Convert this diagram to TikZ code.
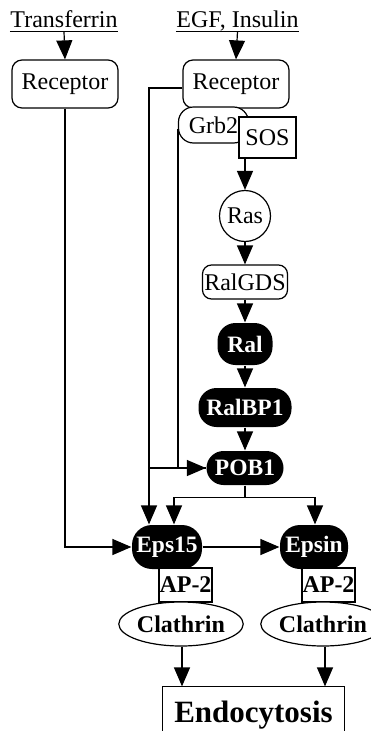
\documentclass[tikz,border=0pt]{standalone}
\usepackage{fontspec}
\setmainfont{Liberation Serif}
\usetikzlibrary{arrows.meta,shapes.geometric}
\begin{document}
\begin{tikzpicture}[x=1pt,y=-1pt,line width=1.2pt,
  every node/.style={font=\fontsize{24}{27}\selectfont},
  arr/.style={-{Triangle[length=19pt 0 0,width=16pt 0 0]}},
  lbl/.style={inner sep=0pt,text depth=0pt,anchor=base},
  rbox/.style={draw,fill=white,rounded corners=#1,inner sep=0pt},
  rbox/.default=10pt,
  sbox/.style={draw,fill=white,inner sep=0pt},
  dark/.style={fill=black,text=white,rounded corners=#1,inner sep=0pt,
    font=\fontsize{23.5}{26}\selectfont\bfseries},
  dark/.default=18pt,
  oval/.style={ellipse,draw,fill=white,inner sep=0pt,
    font=\fontsize{24}{27}\selectfont\bfseries}]
\useasboundingbox (0,0) rectangle (370,731);

% ligands
\node[lbl] (tf)  at (64,27)    {Transferrin};
\node[lbl] (egf) at (237.5,27) {EGF, Insulin};
\draw ([yshift=-4pt]tf.south west) -- ([yshift=-4pt]tf.south east);
\draw ([yshift=-4pt]egf.south west) -- ([yshift=-4pt]egf.south east);

% receptors and adaptor complex
\node[rbox,minimum width=106pt,minimum height=48pt] (rec1) at (65,84)  {Receptor};
\node[rbox,minimum width=106pt,minimum height=48pt] (rec2) at (236,84) {Receptor};
\node[rbox=15pt,minimum width=70pt,minimum height=36pt] (grb2) at (213.5,125) {Grb2};
\node[sbox,minimum width=57pt,minimum height=41pt] (sos) at (267.5,137.5) {SOS};

% Ras pathway
\node[circle,draw,fill=white,inner sep=0pt,minimum size=51pt] (ras) at (245,216) {Ras};
\node[rbox=9pt,minimum width=85pt,minimum height=34pt] (ralgds) at (245,282) {RalGDS};
\node[dark,minimum width=55pt,minimum height=42pt] (ral) at (245,344) {Ral};
\node[dark,minimum width=93pt,minimum height=39pt] (ralbp1) at (245,407.5) {RalBP1};
\node[dark=17pt,minimum width=77pt,minimum height=34pt] (pob1) at (245,468) {POB1};

% endocytic machinery
\node[dark=20pt,minimum width=70pt,minimum height=44pt] (eps15) at (167,547) {Eps15};
\node[dark=20pt,minimum width=68pt,minimum height=44pt] (epsin) at (314,547) {Epsin};
\node[sbox,minimum width=53pt,minimum height=34pt,font=\fontsize{24}{27}\selectfont\bfseries] (ap2a) at (185.5,585) {AP-2};
\node[sbox,minimum width=53pt,minimum height=34pt,font=\fontsize{24}{27}\selectfont\bfseries] (ap2b) at (328.5,585) {AP-2};
\node[oval,minimum width=92pt,minimum height=44pt] (cla) at (181,624) {Clathrin};
\node[oval,minimum width=90pt,minimum height=44pt] (clb) at (323,624) {Clathrin};
\node[inner sep=0pt,minimum width=181pt,minimum height=56pt,
  font=\fontsize{31}{34}\selectfont\bfseries] (endo) at (253.5,715) {Endocytosis};
\draw (endo.south west) |- (endo.north east) -- (endo.south east);

% connectors
\draw[arr] ([yshift=-4pt]tf.south) -- (rec1.north);
\draw[arr] ([yshift=-4pt]egf.south) -- (rec2.north);
\draw[arr] (rec1.south) |- (eps15.west);
\draw[arr] ([yshift=-4pt]rec2.west) -| ([xshift=-18pt]eps15.north);
\coordinate (j1) at (149,468);
\draw[arr] (j1) -- (pob1.west);
\draw ([yshift=-4pt]grb2.west) |- (pob1.west);
\draw[arr] ([xshift=-22.5pt]sos.south) -- (ras.north);
\draw[arr] (ras) -- (ralgds);
\draw[arr] (ralgds) -- (ral);
\draw[arr] (ral) -- (ralbp1);
\draw[arr] (ralbp1) -- (pob1);
\draw[arr] (pob1.south) -- ++(0,12) -| ([xshift=7pt]eps15.north);
\draw[arr] (pob1.south) -- ++(0,12) -| ([xshift=1pt]epsin.north);
\draw[arr] (eps15.east) -- (epsin.west);
\draw[arr] ([xshift=1pt]cla.south) -- ([xshift=1pt]cla.south |- endo.north);
\draw[arr] ([xshift=2pt]clb.south) -- ([xshift=2pt]clb.south |- endo.north);
\end{tikzpicture}
\end{document}
